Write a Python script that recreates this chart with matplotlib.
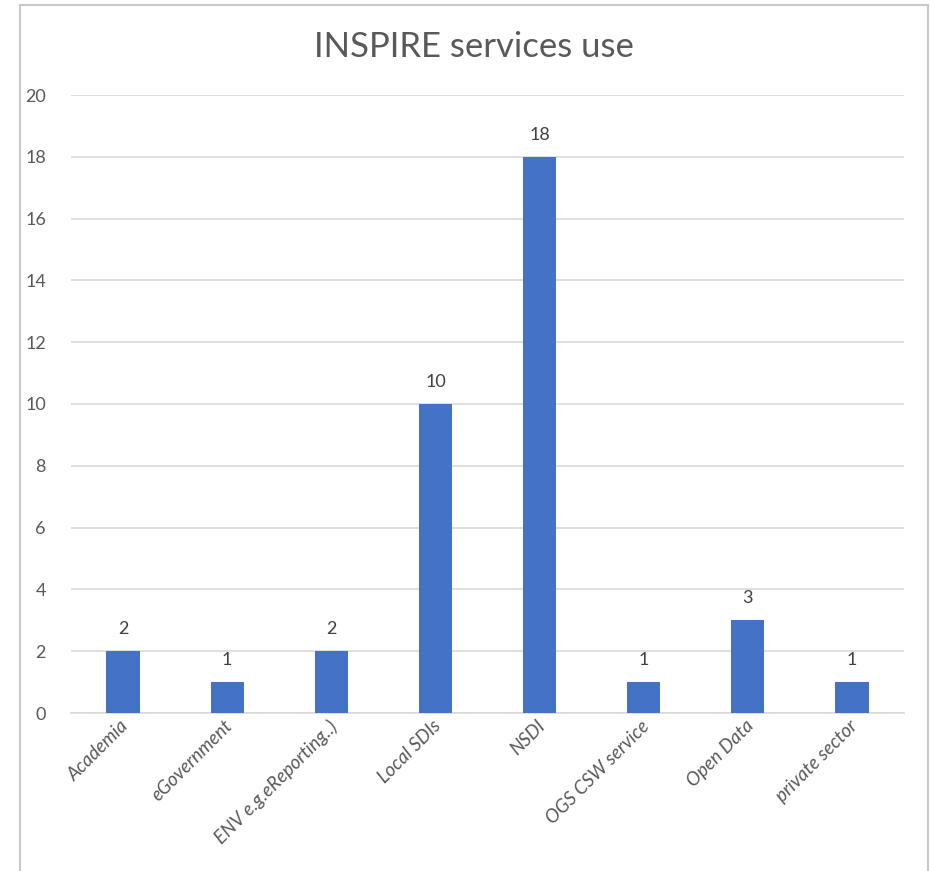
import matplotlib
matplotlib.use('Agg')
import matplotlib.pyplot as plt
from matplotlib.patches import Rectangle

# data
categories = ["Academia", "eGovernment", "ENV e.g.eReporting..)", "Local SDIs",
              "NSDI", "OGS CSW service", "Open Data", "private sector"]
counts = [2, 1, 2, 10, 18, 1, 3, 1]
y_ticks = [0, 2, 4, 6, 8, 10, 12, 14, 16, 18, 20]

plt.rcParams['font.family'] = ['Lato', 'DejaVu Sans']

fig = plt.figure(figsize=(9.3, 8.71), dpi=100)

# chart border (bottom edge is cut off in the original)
fig.add_artist(Rectangle((19.5 / 930, -0.05), (927.5 - 19.5) / 930, 1.05 - 5.5 / 871,
                         transform=fig.transFigure, fill=False,
                         edgecolor='#c8c8c8', linewidth=1.5))

ax = fig.add_axes([71 / 930, 158 / 871, 833 / 930, 618 / 871])

x = range(len(categories))
bars = ax.bar(x, counts, width=0.32, color='#4472C4', zorder=3)

# value labels above bars
for xi, v in zip(x, counts):
    ax.text(xi, v + 0.45, str(v), ha='center', va='bottom',
            fontsize=13, color='#404040')

ax.set_xlim(-0.5, len(categories) - 0.5)
ax.set_ylim(0, 20)
ax.set_yticks(y_ticks)
ax.set_yticklabels([str(t) for t in y_ticks], fontsize=13, color='#595959')
ax.set_xticks([xi - 0.03 for xi in x])
ax.set_xticklabels(categories, rotation=45, ha='right', rotation_mode='anchor',
                   fontsize=13.5, color='#595959', style='italic')
ax.tick_params(axis='both', length=0)
ax.tick_params(axis='y', pad=18)
ax.tick_params(axis='x', pad=3)

ax.grid(axis='y', color='#d9d9d9', linewidth=1.2, zorder=0)
for side in ['top', 'right', 'left']:
    ax.spines[side].set_visible(False)
ax.spines['bottom'].set_color('#d9d9d9')
ax.spines['bottom'].set_linewidth(1.2)

fig.text(474 / 930, 1 - 47 / 871, "INSPIRE services use", ha='center', va='center',
         fontsize=25, color='#595959')

plt.savefig('out.png', dpi=100)
